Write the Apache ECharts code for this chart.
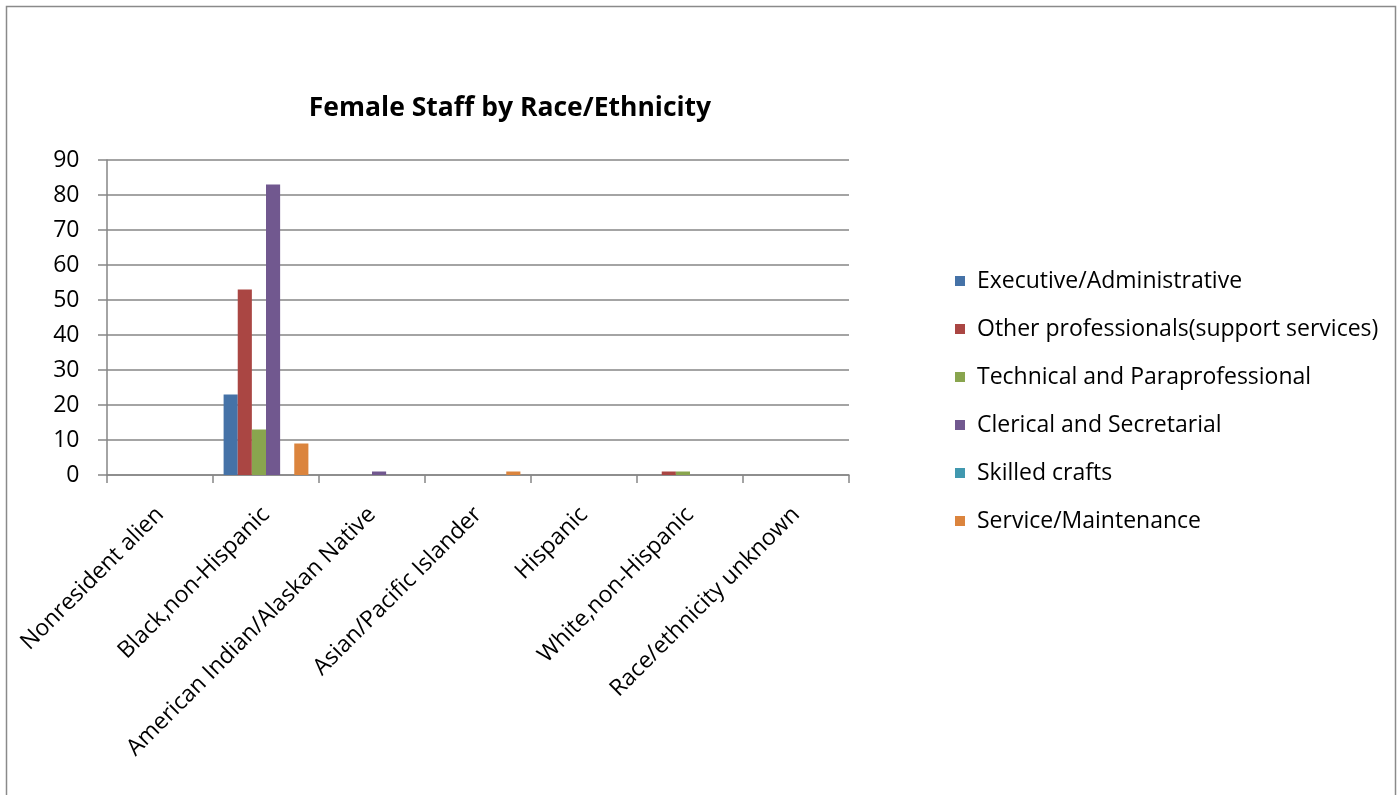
<!DOCTYPE html>
<html>
<head>
<meta charset="utf-8">
<script src="https://cdn.jsdelivr.net/npm/echarts@6/dist/echarts.min.js"></script>
<style>
html,body{margin:0;padding:0;background:#fff;}
#c{width:1397px;height:795px;}
</style>
</head>
<body>
<div id="c"></div>
<script>
const categories = ['Nonresident alien','Black,non-Hispanic','American Indian/Alaskan Native','Asian/Pacific Islander','Hispanic','White,non-Hispanic','Race/ethnicity unknown'];
const seriesNames = ['Executive/Administrative','Other professionals(support services)','Technical and Paraprofessional','Clerical and Secretarial','Skilled crafts','Service/Maintenance'];
const executive = [0,23,0,0,0,0,0];
const otherProf = [0,53,0,0,0,1,0];
const technical = [0,13,0,0,0,1,0];
const clerical  = [0,83,1,0,0,0,0];
const skilled   = [0,0,0,0,0,0,0];
const service   = [0,9,0,1,0,0,0];
const yTicks = [0,10,20,30,40,50,60,70,80,90];
const colors = ['#4572A7','#AA4643','#89A54E','#71588F','#4198AF','#DB843D'];

const seriesData = [executive, otherProf, technical, clerical, skilled, service];
const FONT = '"Open Sans", "Noto Sans", sans-serif';

const chart = echarts.init(document.getElementById('c'));
chart.setOption({
  animation: false,
  color: colors,
  title: {
    text: 'Female Staff by Race/Ethnicity',
    left: 510, top: 95, textAlign: 'center', padding: 0,
    textStyle: {fontFamily: FONT, fontSize: 26.5, fontWeight: 'bold', color: '#000'}
  },
  graphic: [{
    type: 'rect', shape: {x: 6.5, y: 6.5, width: 1389, height: 820},
    style: {fill: 'none', stroke: '#8a8a8a', lineWidth: 1.5}, silent: true
  }],
  legend: {
    orient: 'vertical', left: 955, top: 268, padding: 0,
    itemWidth: 10, itemHeight: 10, itemGap: 22,
    icon: 'rect',
    textStyle: {fontFamily: FONT, fontSize: 23, color: '#000', lineHeight: 26, padding: [0, 0, 0, 7]},
    data: seriesNames
  },
  grid: {left: 107, right: 548, top: 160, bottom: 320, containLabel: false},
  xAxis: {
    type: 'category', data: categories,
    axisLine: {lineStyle: {color: '#868686', width: 1.5}},
    axisTick: {show: true, length: 8, lineStyle: {color: '#868686', width: 1.5}},
    axisLabel: {rotate: 45, interval: 0, margin: 36, fontFamily: FONT, fontSize: 23, color: '#000'}
  },
  yAxis: {
    type: 'value', min: 0, max: 90, interval: 10,
    axisLine: {show: true, lineStyle: {color: '#868686', width: 1.5}},
    axisTick: {show: true, length: 9, inside: false, lineStyle: {color: '#868686', width: 1.5}},
    splitLine: {lineStyle: {color: '#868686', width: 1.5}},
    axisLabel: {margin: 16, fontFamily: FONT, fontSize: 23, color: '#000',
      formatter: v => yTicks.includes(v) ? String(v) + '\u2002' : ''}
  },
  series: seriesNames.map((n, i) => ({
    name: n, type: 'bar', data: seriesData[i],
    barGap: '0%', barCategoryGap: '20%'
  }))
});
</script>
</body>
</html>
